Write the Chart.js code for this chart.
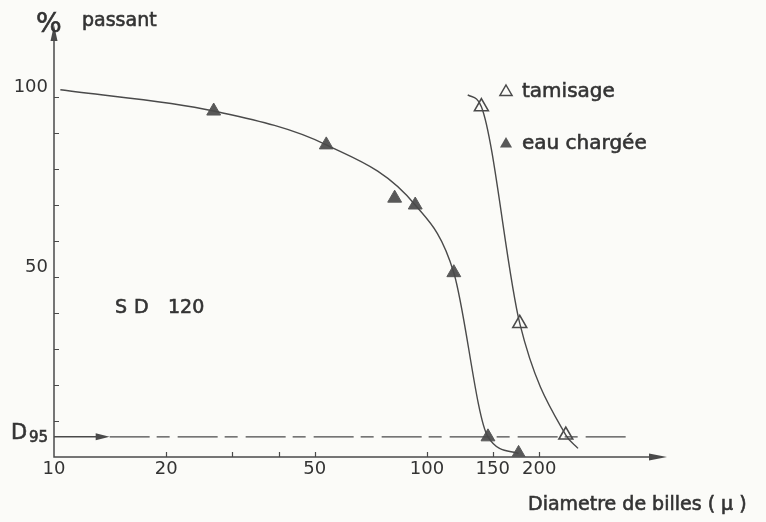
<!DOCTYPE html>
<html lang="fr">
<head>
<meta charset="UTF-8">
<title>SD 120 - % passant</title>
<script src="https://cdn.jsdelivr.net/npm/chart.js"></script>
<style>
    html, body { margin: 0; height: 100%; overflow: hidden; background: #fbfbf8; }
    #wrap { position: relative; width: 766px; height: 522px; }
</style>
</head>
<body>
<div id="wrap"><canvas id="granulo"></canvas></div>
<script>
// eau chargée : diamètre (µ) / % passant
const eauDiam = [26.8, 53.7, 81.9, 93.0, 118, 145.7, 176];
const eauPct  = [96.1, 86.7, 71.9, 70.0, 51.2, 5.6, 1.0];
// tamisage
const tamDiam = [139.9, 177.3, 235.6];
const tamPct  = [97.3, 37.1, 6.1];

const eauCurveDiam = [10.4, 26.8, 53.7, 93.0, 118, 145.7, 176];
const eauCurvePct  = [102, 96.1, 86.7, 70.0, 51.2, 5.6, 1.0];
const tamCurveDiam = [128.6, 139.9, 177.3, 235.6, 254];
const tamCurvePct  = [100.6, 97.3, 37.1, 6.1, 2.4];

// niveau D95
const d95Pct = 5.6;
const d95Diam = [14.1, 343];

const xTickMarks = [20, 30, 40, 50, 100, 150, 200];
const xLabels = [10, 20, 50, 100, 150, 200];
const yTickMarks = [10, 20, 30, 40, 50, 60, 70, 80, 90, 100];
const yLabels = [50, 100];

const ink = '#4a4a4a';
const textInk = '#333333';
const markFill = '#585858';
const paper = '#fbfbf8';
const font = 'DejaVu Sans';

const pts = (xs, ys) => xs.map((v, i) => ({ x: v, y: ys[i] }));

// axes fléchés, graduations vers l'intérieur, flèche du D95
const axesPlugin = {
    id: 'axes',
    beforeDatasetsDraw(chart) {
        const { ctx, chartArea: a, scales: { x, y } } = chart;
        ctx.save();
        ctx.strokeStyle = ink;
        ctx.fillStyle = ink;
        ctx.lineWidth = 1.5;
        ctx.beginPath();
        ctx.moveTo(a.left, a.top + 8);
        ctx.lineTo(a.left, a.bottom);
        ctx.lineTo(a.right - 8, a.bottom);
        ctx.stroke();
        // pointes
        ctx.beginPath();
        ctx.moveTo(a.left, a.top);
        ctx.lineTo(a.left - 3.5, a.top + 16);
        ctx.lineTo(a.left + 3.5, a.top + 16);
        ctx.closePath();
        ctx.fill();
        ctx.beginPath();
        ctx.moveTo(a.right, a.bottom);
        ctx.lineTo(a.right - 18, a.bottom - 3.5);
        ctx.lineTo(a.right - 18, a.bottom + 3.5);
        ctx.closePath();
        ctx.fill();
        // graduations
        ctx.lineWidth = 1.2;
        ctx.beginPath();
        yTickMarks.forEach(v => {
            const py = Math.round(y.getPixelForValue(v)) + 0.5;
            ctx.moveTo(a.left, py);
            ctx.lineTo(a.left + 5, py);
        });
        xTickMarks.forEach(v => {
            const px = Math.round(x.getPixelForValue(v)) + 0.5;
            ctx.moveTo(px, a.bottom);
            ctx.lineTo(px, a.bottom - 5);
        });
        ctx.stroke();
        // flèche vers la ligne D95
        const dy = y.getPixelForValue(d95Pct);
        const tip = x.getPixelForValue(d95Diam[0]);
        ctx.lineWidth = 1.5;
        ctx.beginPath();
        ctx.moveTo(a.left, dy);
        ctx.lineTo(tip - 10, dy);
        ctx.stroke();
        ctx.beginPath();
        ctx.moveTo(tip, dy);
        ctx.lineTo(tip - 14, dy - 3.5);
        ctx.lineTo(tip - 14, dy + 3.5);
        ctx.closePath();
        ctx.fill();
        ctx.restore();
    }
};

function triangle(ctx, cx, cy, r, filled) {
    ctx.beginPath();
    ctx.moveTo(cx, cy - r);
    ctx.lineTo(cx + r * 0.866, cy + r / 2);
    ctx.lineTo(cx - r * 0.866, cy + r / 2);
    ctx.closePath();
    if (filled) {
        ctx.fill();
    } else {
        ctx.fillStyle = paper;
        ctx.fill();
        ctx.stroke();
    }
}

// texte un peu épaissi (trait + remplissage)
function label(ctx, txt, x, y) {
    ctx.strokeText(txt, x, y);
    ctx.fillText(txt, x, y);
}

// textes : unité, légende, D95, nom de l'échantillon
const textPlugin = {
    id: 'texts',
    afterDraw(chart) {
        const { ctx, scales: { y } } = chart;
        ctx.save();
        ctx.fillStyle = textInk;
        ctx.strokeStyle = textInk;
        ctx.lineWidth = 0.6;
        ctx.textBaseline = 'alphabetic';
        ctx.font = `27px "${font}"`;
        label(ctx, '%', 36, 32);
        ctx.font = `19px "${font}"`;
        label(ctx, 'passant', 82, 26);

        const dy = y.getPixelForValue(d95Pct);
        ctx.font = `21px "${font}"`;
        label(ctx, 'D', 11, dy + 2);
        ctx.font = `15px "${font}"`;
        label(ctx, '95', 29, dy + 5);

        ctx.font = `19px "${font}"`;
        ctx.letterSpacing = '7px';
        label(ctx, 'SD', 115, 313);
        ctx.letterSpacing = '0px';
        label(ctx, '120', 168, 313);

        label(ctx, 'Diametre de billes ( μ )', 528, 510);

        // légende
        ctx.font = `20px "${font}"`;
        label(ctx, 'tamisage', 522, 97);
        label(ctx, 'eau chargée', 522, 149);
        ctx.strokeStyle = ink;
        ctx.lineWidth = 1.5;
        triangle(ctx, 506, 92, 7, false);
        ctx.fillStyle = markFill;
        triangle(ctx, 506, 144, 7, true);
        ctx.restore();
    }
};

const curveStyle = {
    showLine: true,
    borderColor: ink,
    borderWidth: 1.4,
    pointRadius: 0,
    cubicInterpolationMode: 'monotone',
    fill: false
};

new Chart(document.getElementById('granulo'), {
    type: 'scatter',
    data: {
        datasets: [
            { ...curveStyle, label: 'eau chargée (courbe)', data: pts(eauCurveDiam, eauCurvePct) },
            { ...curveStyle, label: 'tamisage (courbe)', data: pts(tamCurveDiam, tamCurvePct) },
            {
                label: 'D95',
                data: pts(d95Diam, [d95Pct, d95Pct]),
                showLine: true,
                borderColor: ink,
                borderWidth: 1.4,
                borderDash: [40, 7, 13, 8],
                pointRadius: 0
            },
            {
                label: 'eau chargée',
                data: pts(eauDiam, eauPct),
                pointStyle: 'triangle',
                pointRadius: 8,
                backgroundColor: markFill,
                borderColor: markFill,
                borderWidth: 1
            },
            {
                label: 'tamisage',
                data: pts(tamDiam, tamPct),
                pointStyle: 'triangle',
                pointRadius: 8,
                backgroundColor: paper,
                borderColor: ink,
                borderWidth: 1.6
            }
        ]
    },
    options: {
        responsive: true,
        maintainAspectRatio: false,
        animation: false,
        layout: { padding: { top: 25, right: 99, left: 0, bottom: 0 } },
        scales: {
            x: {
                type: 'logarithmic',
                min: 10,
                max: 440,
                afterBuildTicks: s => { s.ticks = xLabels.map(v => ({ value: v })); },
                afterFit: s => { s.height = 65; },
                grid: { display: false, drawTicks: false },
                border: { display: false },
                ticks: {
                    autoSkip: false,
                    maxRotation: 0,
                    padding: 2,
                    color: textInk,
                    font: { family: font, size: 18 },
                    callback: v => String(v)
                }
            },
            y: {
                min: 0,
                max: 120,
                afterBuildTicks: s => { s.ticks = yLabels.map(v => ({ value: v })); },
                afterFit: s => { s.width = 54; },
                grid: { display: false, drawTicks: false },
                border: { display: false },
                ticks: {
                    padding: 6,
                    labelOffset: -10,
                    color: textInk,
                    font: { family: font, size: 18 },
                    callback: v => String(v)
                }
            }
        },
        plugins: {
            legend: { display: false },
            tooltip: { enabled: false }
        }
    },
    plugins: [axesPlugin, textPlugin]
});
</script>
</body>
</html>
